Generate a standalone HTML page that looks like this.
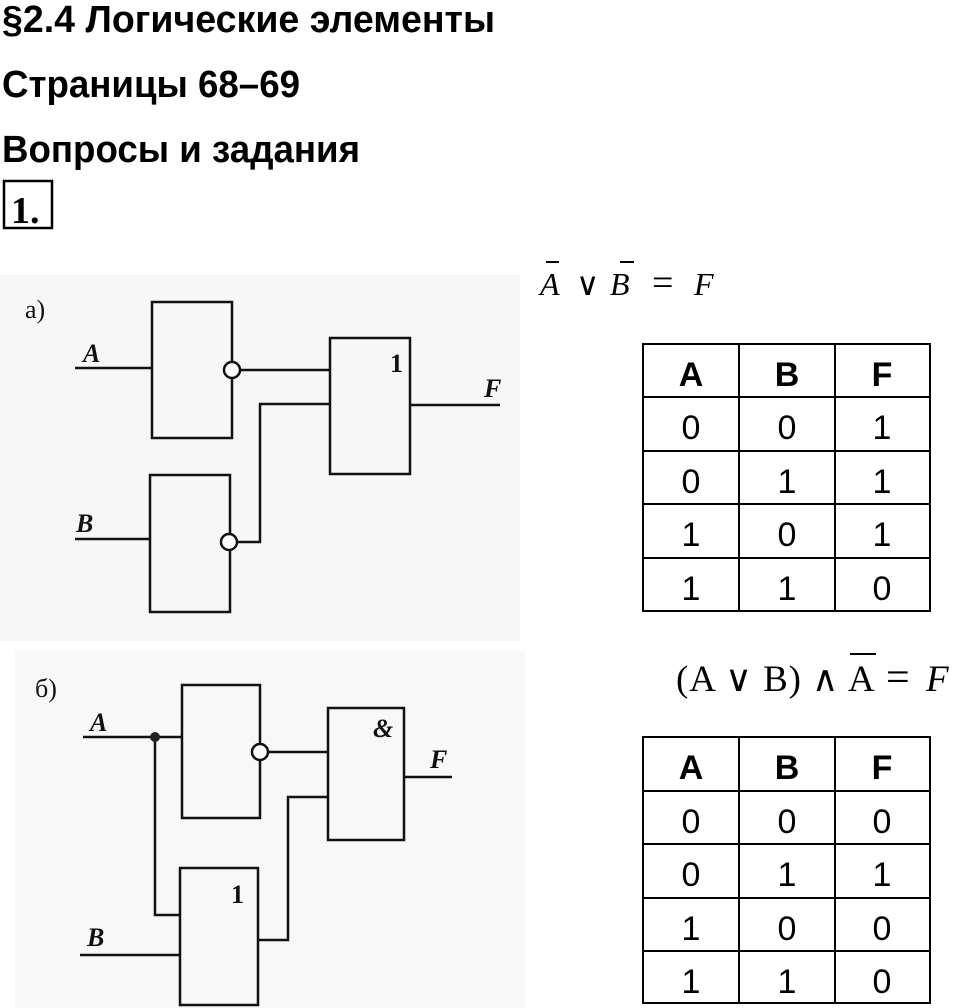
<!DOCTYPE html>
<html><head><meta charset="utf-8"><style>
html,body{margin:0;padding:0;background:#fff;width:960px;height:1008px;overflow:hidden}
svg{display:block}
</style></head><body>
<svg width="960" height="1008" viewBox="0 0 960 1008" xmlns="http://www.w3.org/2000/svg">
<rect x="0" y="275" width="520" height="366" fill="#f7f7f7"/>
<rect x="15" y="651" width="510" height="357" fill="#f8f8f8"/>

<g font-family="Liberation Sans, sans-serif" font-weight="bold" fill="#000">
<text x="2" y="32" font-size="38" textLength="493" lengthAdjust="spacingAndGlyphs">§2.4 Логические элементы</text>
<text x="2" y="97" font-size="38" textLength="298" lengthAdjust="spacingAndGlyphs">Страницы 68–69</text>
<text x="2" y="162" font-size="38" textLength="358" lengthAdjust="spacingAndGlyphs">Вопросы и задания</text>
</g>
<rect x="4" y="181" width="48" height="47" fill="none" stroke="#000" stroke-width="2.5"/>
<text x="11" y="223" font-family="Liberation Serif, serif" font-weight="bold" font-size="38">1.</text>

<!-- formulas -->
<g font-family="Liberation Serif, serif" font-size="32" fill="#000">
<text x="540" y="295" font-style="italic">A</text>
<line x1="546" y1="262" x2="559" y2="262" stroke="#000" stroke-width="2"/>
<text x="576" y="295" font-family="Liberation Sans, sans-serif" font-size="32">∨</text>
<text x="610" y="295" font-style="italic">B</text>
<line x1="620" y1="262" x2="634" y2="262" stroke="#000" stroke-width="2"/>
<text x="652" y="295" font-size="38">=</text>
<text x="694" y="295" font-style="italic">F</text>

<text x="676" y="691" font-size="37" textLength="125" lengthAdjust="spacing">(A ∨ B)</text>
<text x="812" y="691" font-size="36" font-family="Liberation Sans, sans-serif">∧</text>
<text x="848" y="691" font-size="37">A</text>
<line x1="850" y1="654" x2="876" y2="654" stroke="#000" stroke-width="2"/>
<text x="886" y="691" font-size="42">=</text>
<text x="926" y="691" font-size="37" font-style="italic">F</text>
</g>

<!-- tables -->
<g stroke="#000" stroke-width="2" fill="none">
<rect x="643" y="344" width="287" height="267"/>
<line x1="739" y1="344" x2="739" y2="611"/><line x1="835" y1="344" x2="835" y2="611"/>
<line x1="643" y1="397" x2="930" y2="397"/><line x1="643" y1="451" x2="930" y2="451"/>
<line x1="643" y1="504" x2="930" y2="504"/><line x1="643" y1="558" x2="930" y2="558"/>
<rect x="643" y="737" width="287" height="266"/>
<line x1="739" y1="737" x2="739" y2="1003"/><line x1="835" y1="737" x2="835" y2="1003"/>
<line x1="643" y1="791" x2="930" y2="791"/><line x1="643" y1="844" x2="930" y2="844"/>
<line x1="643" y1="898" x2="930" y2="898"/><line x1="643" y1="951" x2="930" y2="951"/>
</g>
<g font-family="Liberation Sans, sans-serif" font-size="34" text-anchor="middle" fill="#000">
<g font-weight="bold"><text x="691" y="386">A</text><text x="787" y="386">B</text><text x="882" y="386">F</text></g>
<text x="691" y="439">0</text><text x="787" y="439">0</text><text x="882" y="439">1</text>
<text x="691" y="493">0</text><text x="787" y="493">1</text><text x="882" y="493">1</text>
<text x="691" y="546">1</text><text x="787" y="546">0</text><text x="882" y="546">1</text>
<text x="691" y="600">1</text><text x="787" y="600">1</text><text x="882" y="600">0</text>

<g font-weight="bold"><text x="691" y="779">A</text><text x="787" y="779">B</text><text x="882" y="779">F</text></g>
<text x="691" y="833">0</text><text x="787" y="833">0</text><text x="882" y="833">0</text>
<text x="691" y="886">0</text><text x="787" y="886">1</text><text x="882" y="886">1</text>
<text x="691" y="940">1</text><text x="787" y="940">0</text><text x="882" y="940">0</text>
<text x="691" y="993">1</text><text x="787" y="993">1</text><text x="882" y="993">0</text>
</g>

<!-- diagram a -->
<g stroke="#111" stroke-width="2.5" fill="none">
<rect x="152" y="302" width="80" height="136"/>
<rect x="330" y="338" width="80" height="136"/>
<rect x="150" y="475" width="80" height="137"/>
<line x1="75" y1="368" x2="152" y2="368"/>
<line x1="240" y1="370" x2="330" y2="370"/>
<polyline points="236,542 260,542 260,404 330,404"/>
<line x1="75" y1="539" x2="150" y2="539"/>
<line x1="410" y1="405" x2="500" y2="405"/>
<circle cx="232" cy="370" r="8" fill="#fff"/>
<circle cx="229" cy="542" r="8" fill="#fff"/>
</g>
<g font-family="Liberation Serif, serif" font-size="26" fill="#111" font-weight="bold">
<text x="25" y="318" font-weight="normal">а)</text>
<text x="83" y="362" font-style="italic">A</text>
<text x="76" y="532" font-style="italic">B</text>
<text x="484" y="397" font-style="italic">F</text>
<text x="390" y="372">1</text>
</g>

<!-- diagram b -->
<g stroke="#111" stroke-width="2.5" fill="none">
<rect x="182" y="685" width="78" height="133"/>
<rect x="328" y="708" width="76" height="132"/>
<rect x="180" y="868" width="78" height="137"/>
<line x1="83" y1="737" x2="182" y2="737"/>
<polyline points="155,737 155,915 180,915"/>
<line x1="268" y1="752" x2="328" y2="752"/>
<polyline points="258,940 288,940 288,797 328,797"/>
<line x1="80" y1="955" x2="180" y2="955"/>
<line x1="404" y1="777" x2="452" y2="777"/>
<circle cx="260" cy="752" r="8" fill="#fff"/>
</g>
<circle cx="155" cy="737" r="5" fill="#222"/>
<g font-family="Liberation Serif, serif" font-size="26" fill="#111" font-weight="bold">
<text x="35" y="697" font-weight="normal">б)</text>
<text x="90" y="731" font-style="italic">A</text>
<text x="87" y="946" font-style="italic">B</text>
<text x="430" y="768" font-style="italic">F</text>
<text x="373" y="737" font-style="italic">&amp;</text>
<text x="231" y="903">1</text>
</g>
</svg>
</body></html>
